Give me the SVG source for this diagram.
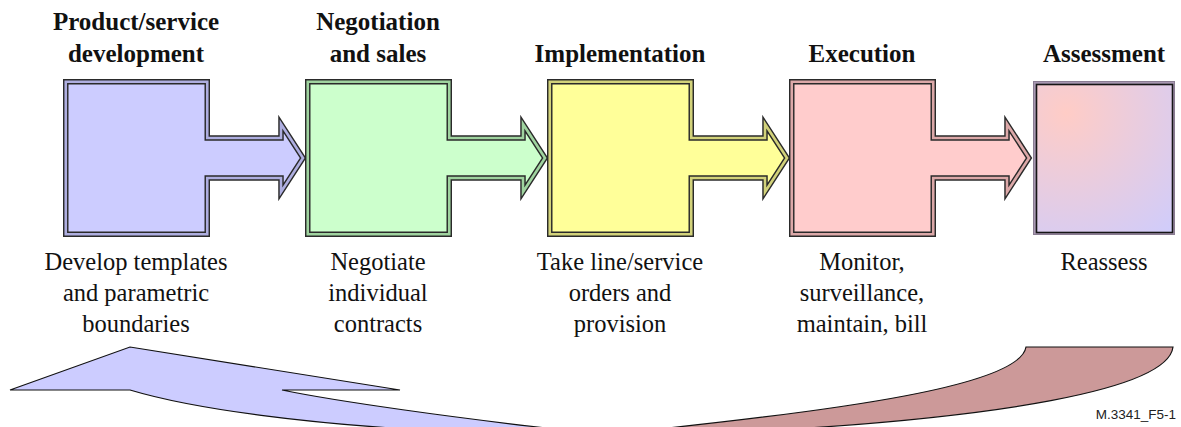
<svg xmlns="http://www.w3.org/2000/svg" width="1181" height="427" viewBox="0 0 1181 427">
  <defs>
    <style>
      .title { font-family: "Liberation Serif", "Times New Roman", serif; font-weight: bold; font-size: 25px; fill: #111; text-anchor: middle; }
      .desc { font-family: "Liberation Serif", "Times New Roman", serif; font-size: 24.5px; fill: #111; text-anchor: middle; }
      .edge { stroke: #2a2a2a; stroke-width: 5.5; fill: none; stroke-linejoin: miter; stroke-miterlimit: 10; }
      .band { stroke-width: 2.6; fill: none; stroke-linejoin: miter; stroke-miterlimit: 10; }
      .flow { stroke: #111; stroke-width: 1.2; stroke-linejoin: miter; }
      .tag { font-family: "Liberation Sans", Arial, sans-serif; font-size: 13.5px; fill: #222; text-anchor: end; }
    </style>
    <!-- box with a block arrow on its right side, drawn around its band centre line -->
    <path id="boxArrow" d="M65.75,81.75 H207.25 V138 H281 V124 L303,158 L281,192 V178 H207.25 V234.25 H65.75 Z"/>
    <radialGradient id="assessFill" gradientUnits="userSpaceOnUse" cx="1066" cy="113" r="170">
      <stop offset="0" stop-color="#ffccc6"/>
      <stop offset="1" stop-color="#ccccff"/>
    </radialGradient>
  </defs>

  <rect width="1181" height="427" fill="#ffffff"/>

  <!-- feedback arrows along the bottom -->
  <g id="connectors">
    <path class="flow" fill="#cc9999" d="M1026,347 H1173 C1168,388 1010,420 700,434 L610,434 C850,410 1020,385 1026,347 Z"/>
    <path class="flow" fill="#ccccff" d="M10,390 L130,347 L400,390 L282,390 C330,400 450,418 600,434 L520,434 C300,428 180,405 130,390 Z"/>
  </g>

  <g id="node-development">
    <use href="#boxArrow" fill="#ccccff"/>
    <use href="#boxArrow" class="edge"/>
    <use href="#boxArrow" class="band" stroke="#aeaee0"/>
    <text class="title" x="136" y="30">Product/service</text>
    <text class="title" x="136" y="62">development</text>
    <text class="desc" x="136" y="270">Develop templates</text>
    <text class="desc" x="136" y="301">and parametric</text>
    <text class="desc" x="136" y="332">boundaries</text>
  </g>

  <g id="node-negotiation">
    <use href="#boxArrow" x="242" fill="#ccffcc"/>
    <use href="#boxArrow" x="242" class="edge"/>
    <use href="#boxArrow" x="242" class="band" stroke="#9fd39f"/>
    <text class="title" x="378" y="30">Negotiation</text>
    <text class="title" x="378" y="62">and sales</text>
    <text class="desc" x="378" y="270">Negotiate</text>
    <text class="desc" x="378" y="301">individual</text>
    <text class="desc" x="378" y="332">contracts</text>
  </g>

  <g id="node-implementation">
    <use href="#boxArrow" x="484" fill="#ffff99"/>
    <use href="#boxArrow" x="484" class="edge"/>
    <use href="#boxArrow" x="484" class="band" stroke="#d2d27a"/>
    <text class="title" x="620" y="62">Implementation</text>
    <text class="desc" x="620" y="270">Take line/service</text>
    <text class="desc" x="620" y="301">orders and</text>
    <text class="desc" x="620" y="332">provision</text>
  </g>

  <g id="node-execution">
    <use href="#boxArrow" x="726" fill="#ffcccc"/>
    <use href="#boxArrow" x="726" class="edge"/>
    <use href="#boxArrow" x="726" class="band" stroke="#dca8a8"/>
    <text class="title" x="862" y="62">Execution</text>
    <text class="desc" x="862" y="270">Monitor,</text>
    <text class="desc" x="862" y="301">surveillance,</text>
    <text class="desc" x="862" y="332">maintain, bill</text>
  </g>

  <g id="node-assessment">
    <rect x="1033.5" y="81.5" width="141" height="153" fill="#a898b2" stroke="#8a7c92" stroke-width="1"/>
    <rect x="1036.5" y="84.5" width="136" height="148" fill="url(#assessFill)" stroke="#151515" stroke-width="1.6"/>
    <text class="title" x="1104" y="62">Assessment</text>
    <text class="desc" x="1104" y="270">Reassess</text>
  </g>

  <text class="tag" x="1176" y="419">M.3341_F5-1</text>
</svg>
